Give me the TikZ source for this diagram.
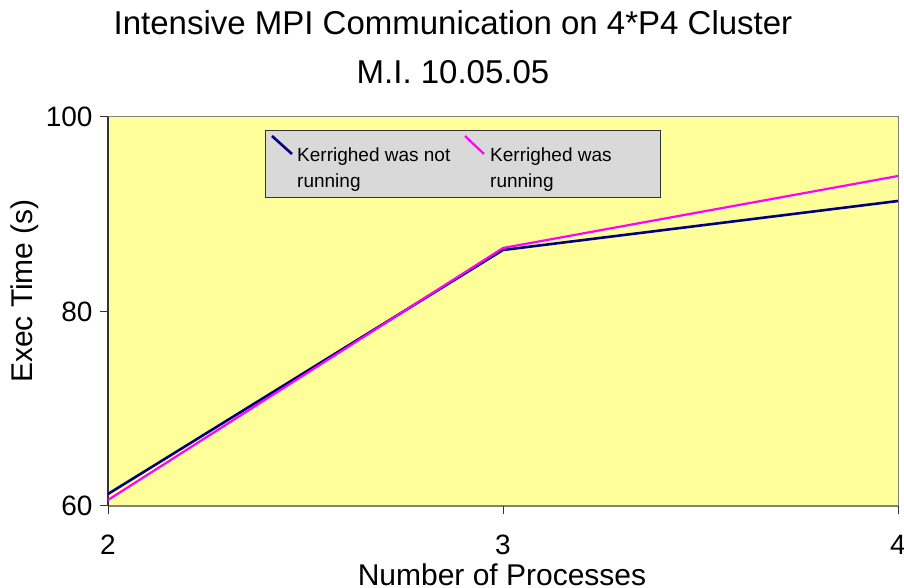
\documentclass[tikz,border=0pt]{standalone}
\usepackage{fontspec}
\setmainfont{Liberation Sans}
\definecolor{plotbg}{RGB}{255,255,153}
\definecolor{legbg}{RGB}{217,217,217}
\definecolor{seriesA}{RGB}{0,0,128}
\definecolor{seriesB}{RGB}{255,0,255}
\definecolor{framegray}{RGB}{128,128,128}
\begin{document}
\begin{tikzpicture}[x=1pt,y=1pt,
  titletext/.style={font=\fontsize{33}{36}\selectfont, anchor=base},
  ticktext/.style={font=\fontsize{28}{30}\selectfont},
  axistext/.style={font=\fontsize{30}{32}\selectfont},
  legtext/.style={font=\fontsize{19}{26}\selectfont, align=left, anchor=north west, inner sep=0pt},
  serieslineA/.style={seriesA, line width=2.6pt, line join=round},
  serieslineB/.style={seriesB, line width=2.2pt, line join=round}]
\useasboundingbox (0,0) rectangle (904,588);
\fill[white] (0,0) rectangle (904,588);

% plot area: x in [2,4] -> [108,898], y in [60,100] -> [82,471]
\coordinate (pa) at (108,82);
\coordinate (pb) at (898,471);
\fill[plotbg] (pa) rectangle (pb);
\draw[framegray, line width=1pt] (108,471) -- (898,471) -- (898,82);
\draw[framegray, line width=1.2pt] (108,82) -- (898,82);
\draw[black!80, line width=1.2pt] (108,82) -- (108,471);

% ticks
\foreach \yy in {82,276.5,471} \draw[black!80, line width=1pt] (100,\yy) -- (108,\yy);
\foreach \xx in {108,503,898} \draw[black!80, line width=1pt] (\xx,82) -- (\xx,74);

% tick labels
\node[ticktext, anchor=east] (y100) at (96,471) {100};
\node[ticktext, anchor=east] (y80) at (96,276.5) {80};
\node[ticktext, anchor=east] (y60) at (96,82) {60};
\node[ticktext, anchor=base] (x2) at (108,33) {2};
\node[ticktext, anchor=base] (x3) at (503,33) {3};
\node[ticktext, anchor=base] (x4) at (898,33) {4};

% axis titles
\node[axistext, rotate=90] (ylab) at (25,297) {Exec Time (s)};
\node[axistext, anchor=base] (xlab) at (502,2) {Number of Processes};

% chart title
\node[titletext] (t1) at (453,553) {Intensive MPI Communication on 4*P4 Cluster};
\node[titletext] (t2) at (453,504) {M.I. 10.05.05};

% data series
\coordinate (a2) at (108,94);
\coordinate (a3) at (503,338);
\coordinate (a4) at (898,387);
\coordinate (b2) at (108,88);
\coordinate (b3) at (503,340);
\coordinate (b4) at (898,412);
\draw[serieslineA] (a2) -- (a3) -- (a4);
\draw[serieslineB] (b2) -- (b3) -- (b4);

% legend
\node[draw=black!80, line width=1pt, fill=legbg, minimum width=395pt, minimum height=67pt, anchor=north west, inner sep=0pt] (leg) at (265,458) {};
\draw[seriesA, line width=2.6pt] (272,452) -- (292,434);
\node[legtext] (la) at (297,440) {Kerrighed was not\\running};
\draw[seriesB, line width=2.2pt] (465,452) -- (484,434);
\node[legtext] (lb) at (490,440) {Kerrighed was\\running};
\end{tikzpicture}
\end{document}
